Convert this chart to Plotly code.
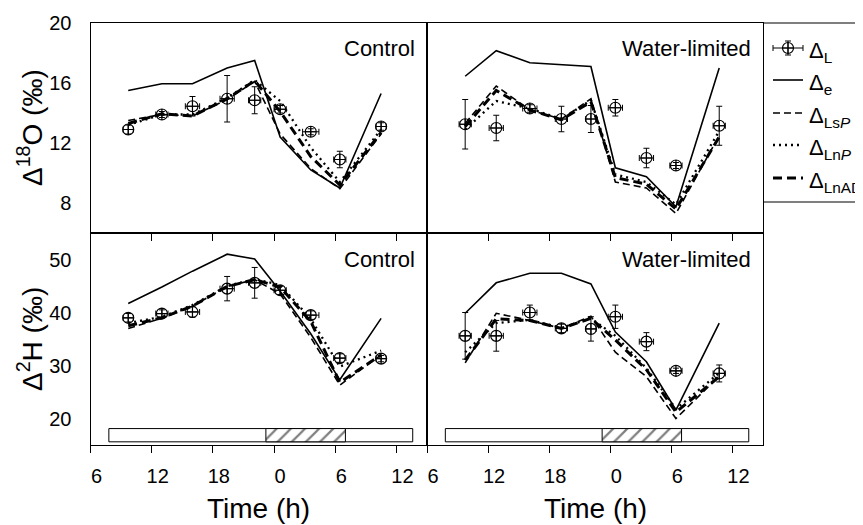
import plotly.graph_objects as go
from plotly.subplots import make_subplots

# ---------------- data ----------------
time_ctrl = [9.7, 13.0, 16.0, 19.4, 22.1, 24.6, 27.6, 30.45, 34.5]
time_wl = [9.75, 12.8, 16.1, 19.2, 22.1, 24.5, 27.55, 30.45, 34.7]
time_err_ctrl = [0.5, 0.6, 0.7, 0.7, 0.6, 0.6, 0.8, 0.6, 0.5]
time_err_wl = [0.6, 0.7, 0.7, 0.6, 0.5, 0.7, 0.7, 0.6, 0.6]

# Delta 18O, control
dL_O_ctrl = [12.9, 13.9, 14.45, 14.95, 14.85, 14.25, 12.75, 10.9, 13.1]
dL_O_ctrl_err = [0.3, 0.2, 0.65, 1.55, 0.9, 0.25, 0.2, 0.55, 0.25]
de_O_ctrl = [15.5, 15.95, 15.95, 17.0, 17.5, 12.4, 10.2, 9.0, 15.3]
LsP_O_ctrl = [13.5, 13.9, 13.8, 14.9, 16.1, 12.6, 10.3, 8.95, 12.6]
LnP_O_ctrl = [13.2, 13.9, 13.9, 15.0, 16.2, 14.8, 11.7, 9.4, 12.9]
LnAD_O_ctrl = [13.3, 13.95, 13.8, 14.95, 16.15, 14.1, 11.1, 9.2, 12.7]

# Delta 18O, water-limited
dL_O_wl = [13.25, 13.0, 14.3, 13.6, 13.6, 14.35, 11.0, 10.5, 13.15]
dL_O_wl_err = [1.65, 0.85, 0.25, 0.85, 0.9, 0.55, 0.65, 0.2, 1.3]
de_O_wl = [16.45, 18.15, 17.35, 17.2, 17.1, 10.35, 9.75, 7.75, 17.0]
LsP_O_wl = [13.3, 15.8, 14.2, 13.6, 14.95, 9.4, 9.0, 7.3, 12.5]
LnP_O_wl = [12.9, 14.8, 14.3, 13.6, 14.85, 9.9, 9.4, 7.9, 12.8]
LnAD_O_wl = [13.1, 15.5, 14.2, 13.55, 14.75, 9.7, 9.25, 7.6, 12.4]

# Delta 2H, control
dL_H_ctrl = [39.0, 39.8, 40.1, 44.5, 45.6, 44.2, 39.5, 31.4, 31.3]
dL_H_ctrl_err = [0.8, 0.7, 1.0, 2.3, 2.9, 0.8, 0.8, 0.8, 0.6]
de_H_ctrl = [41.7, 44.8, 47.8, 51.0, 50.1, 44.0, 36.0, 27.3, 38.9]
LsP_H_ctrl = [37.0, 38.9, 41.2, 44.9, 46.2, 43.5, 35.3, 26.3, 32.0]
LnP_H_ctrl = [38.0, 39.2, 41.4, 45.0, 46.3, 45.2, 38.8, 29.8, 32.8]
LnAD_H_ctrl = [37.5, 39.0, 41.2, 44.9, 46.2, 44.8, 38.3, 26.8, 32.0]

# Delta 2H, water-limited
dL_H_wl = [35.6, 35.6, 40.0, 37.0, 36.9, 39.2, 34.5, 29.0, 28.5]
dL_H_wl_err = [4.4, 2.9, 1.4, 0.8, 2.3, 2.2, 1.7, 0.5, 1.6]
de_H_wl = [39.85, 45.6, 47.4, 47.4, 45.4, 36.3, 30.7, 21.6, 38.0]
LsP_H_wl = [30.5, 39.85, 38.5, 37.0, 39.3, 32.5, 27.9, 20.0, 28.0]
LnP_H_wl = [32.5, 38.0, 38.6, 37.1, 38.9, 35.6, 29.5, 21.8, 28.6]
LnAD_H_wl = [31.0, 38.8, 38.5, 37.0, 38.9, 34.8, 29.2, 21.2, 27.9]

# light / dark periods (h, continuous clock)
period_start = 7.8
dark_start = 23.2
dark_end = 31.0
period_end = 37.6

x_tickvals = [6, 12, 18, 24, 30, 36]
x_ticktext = ["6", "12", "18", "0", "6", "12"]
yO_ticks = [8, 12, 16, 20]
yH_ticks = [20, 30, 40, 50]
panel_labels = ["Control", "Water-limited"]
legend_labels = ["Δ<sub>L</sub>", "Δ<sub>e</sub>", "Δ<sub>Ls<i>P</i></sub>",
                 "Δ<sub>Ln<i>P</i></sub>", "Δ<sub>LnAD</sub>"]

# ---------------- figure ----------------
FONT = "Liberation Sans, Arial, sans-serif"
OFF = 8                      # page body margin of the html page
W, H = 863 - OFF, 525 - OFF  # figure size so that it fits the window


def px(p):
    return (p - OFF) / W


def py(p):
    return 1 - (p - OFF) / H


fig = make_subplots(rows=2, cols=2, horizontal_spacing=0, vertical_spacing=0)

styles = {
    "e": dict(color="black", width=1.6),
    "LsP": dict(color="black", width=1.6, dash="7px,4px"),
    "LnP": dict(color="black", width=2.3, dash="2px,4px"),
    "LnAD": dict(color="black", width=3, dash="9px,5px"),
}

panels = [
    (1, 1, time_ctrl, time_err_ctrl, dL_O_ctrl, dL_O_ctrl_err, de_O_ctrl, LsP_O_ctrl, LnP_O_ctrl, LnAD_O_ctrl),
    (1, 2, time_wl, time_err_wl, dL_O_wl, dL_O_wl_err, de_O_wl, LsP_O_wl, LnP_O_wl, LnAD_O_wl),
    (2, 1, time_ctrl, time_err_ctrl, dL_H_ctrl, dL_H_ctrl_err, de_H_ctrl, LsP_H_ctrl, LnP_H_ctrl, LnAD_H_ctrl),
    (2, 2, time_wl, time_err_wl, dL_H_wl, dL_H_wl_err, de_H_wl, LsP_H_wl, LnP_H_wl, LnAD_H_wl),
]

for (r, c, t, terr, obs, oerr, de, lsp, lnp, lnad) in panels:
    if r == 2:
        # hatched dark period bar
        fig.add_trace(go.Bar(
            orientation="h", y=[16.85], x=[dark_end - dark_start], base=[dark_start],
            width=[2.5], showlegend=False, hoverinfo="skip",
            marker=dict(color="white", line=dict(color="black", width=1),
                        pattern=dict(shape="/", fgcolor="black", bgcolor="white",
                                     size=10, solidity=0.22))), row=r, col=c)
    fig.add_trace(go.Scatter(x=t, y=de, mode="lines", line=styles["e"], showlegend=False), row=r, col=c)
    fig.add_trace(go.Scatter(x=t, y=lsp, mode="lines", line=styles["LsP"], showlegend=False), row=r, col=c)
    fig.add_trace(go.Scatter(x=t, y=lnp, mode="lines", line=styles["LnP"], showlegend=False), row=r, col=c)
    fig.add_trace(go.Scatter(x=t, y=lnad, mode="lines", line=styles["LnAD"], showlegend=False), row=r, col=c)
    fig.add_trace(go.Scatter(
        x=t, y=obs, mode="markers", showlegend=False,
        marker=dict(symbol="circle-cross-open", size=11, color="black", line=dict(width=1.2, color="black")),
        error_y=dict(type="data", array=oerr, color="black", thickness=1, width=3),
        error_x=dict(type="data", array=terr, color="black", thickness=1, width=3)), row=r, col=c)

xL = [px(90.5), px(427)]
xR = [px(427), px(763)]
yTop = [py(233), py(23)]
yBot = [py(445), py(233)]

axis_common = dict(showline=True, linecolor="black", linewidth=1.2, mirror=True,
                   showgrid=False, zeroline=False, tickfont=dict(family=FONT, size=20, color="black"))
xax = dict(axis_common, range=[6, 39], tickvals=x_tickvals, ticktext=x_ticktext,
           ticks="outside", ticklen=7, tickwidth=1.3, tickcolor="black",
           ticklabelshift=6, ticklabelstandoff=6)
fig.update_layout(
    xaxis=dict(xax, domain=xL, showticklabels=False),
    xaxis2=dict(xax, domain=xR, showticklabels=False),
    xaxis3=dict(xax, domain=xL),
    xaxis4=dict(xax, domain=xR),
    yaxis=dict(axis_common, domain=yTop, range=[6, 20], tickvals=yO_ticks, ticks="", ticklabelstandoff=14),
    yaxis2=dict(axis_common, domain=yTop, range=[6, 20], tickvals=yO_ticks, showticklabels=False, ticks=""),
    yaxis3=dict(axis_common, domain=yBot, range=[15, 55], tickvals=yH_ticks, ticks="", ticklabelstandoff=14),
    yaxis4=dict(axis_common, domain=yBot, range=[15, 55], tickvals=yH_ticks, showticklabels=False, ticks=""),
    xaxis5=dict(domain=[px(763), 1.0], range=[0, 100], visible=False, anchor="y5"),
    yaxis5=dict(domain=[py(202), py(23)], range=[179, 0], visible=False, anchor="x5"),
)

# light / dark bar background (white parts)
for xa, ya in [("x3", "y3"), ("x4", "y4")]:
    fig.add_shape(type="rect", xref=xa, yref=ya, x0=period_start, x1=period_end, y0=15.6, y1=18.1,
                  fillcolor="white", line=dict(color="black", width=1), layer="below")

# ---------------- legend (manual) ----------------
leg_y = [25, 57, 90, 122, 155]
fig.add_trace(go.Scatter(
    x=[25], y=[leg_y[0]], xaxis="x5", yaxis="y5", mode="markers", showlegend=False,
    marker=dict(symbol="circle-cross-open", size=11, color="black", line=dict(width=1.2, color="black")),
    error_x=dict(type="data", array=[15], color="black", thickness=1, width=3),
    error_y=dict(type="data", array=[7], color="black", thickness=1, width=3)))
for yy, key in zip(leg_y[1:], ["e", "LsP", "LnP", "LnAD"]):
    fig.add_trace(go.Scatter(x=[10, 40], y=[yy, yy], xaxis="x5", yaxis="y5", mode="lines",
                             line=styles[key], showlegend=False))
for yy, lab in zip(leg_y, legend_labels):
    fig.add_annotation(xref="x5", yref="y5", x=44, y=yy, text=lab, showarrow=False,
                       xanchor="left", yanchor="middle", yshift=-4,
                       font=dict(family=FONT, size=22, color="black"))
fig.add_shape(type="line", xref="paper", yref="paper", x0=px(763), x1=1, y0=py(23), y1=py(23),
              line=dict(color="black", width=1.2))
fig.add_shape(type="line", xref="paper", yref="paper", x0=px(763), x1=1, y0=py(202), y1=py(202),
              line=dict(color="black", width=1.2))

# ---------------- panel labels & titles ----------------
for i, (xa, ya) in enumerate([("x", "y"), ("x2", "y2"), ("x3", "y3"), ("x4", "y4")]):
    fig.add_annotation(xref=xa + " domain", yref=ya + " domain", x=1, y=1, xshift=-10, yshift=-26,
                       xanchor="right", yanchor="middle", showarrow=False,
                       text=panel_labels[i % 2], font=dict(family=FONT, size=22, color="black"))

for xa in ["x3", "x4"]:
    fig.add_annotation(xref=xa + " domain", yref="paper", x=0.5, y=py(508), xanchor="center",
                       yanchor="middle", showarrow=False, text="Time (h)",
                       font=dict(family=FONT, size=28, color="black"))

fig.add_annotation(xref="paper", yref="y domain", x=px(30), y=0.5, textangle=-90, showarrow=False,
                   xanchor="center", yanchor="middle", text="Δ<sup>18</sup>O (‰)",
                   font=dict(family=FONT, size=28, color="black"))
fig.add_annotation(xref="paper", yref="y3 domain", x=px(30), y=0.5, textangle=-90, showarrow=False,
                   xanchor="center", yanchor="middle", text="Δ<sup>2</sup>H (‰)",
                   font=dict(family=FONT, size=28, color="black"))

fig.update_layout(width=W, height=H, margin=dict(l=0, r=0, t=0, b=0, autoexpand=False),
                  paper_bgcolor="white", plot_bgcolor="white", showlegend=False,
                  barmode="overlay", font=dict(family=FONT, color="black"))

fig.write_html("out.html")
